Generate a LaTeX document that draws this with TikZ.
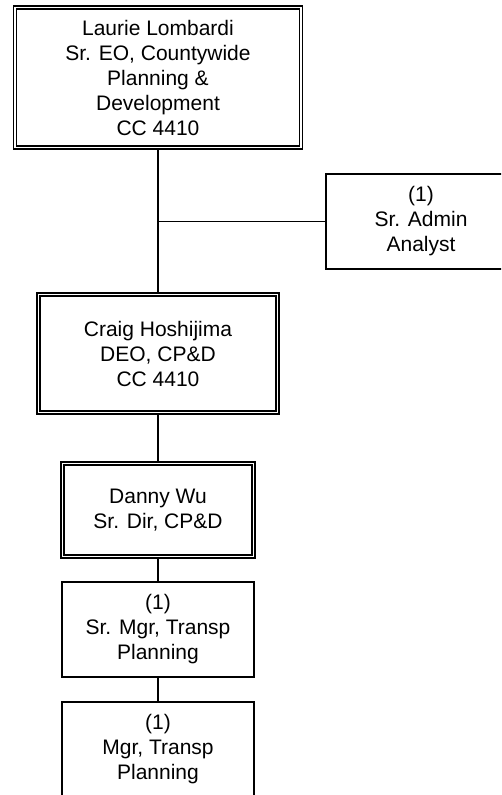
\documentclass[tikz,border=0pt]{standalone}
\usepackage{fontspec}
\setmainfont{Liberation Sans}
\begin{document}
\begin{tikzpicture}[x=1pt,y=-1pt,
  boxtext/.style={align=center,font=\fontsize{21}{25}\selectfont,inner sep=0pt},
  dbox/.style={boxtext,draw=black,double=white,line width=1.3pt,double distance=1.5pt,rectangle},
  sbox/.style={boxtext,draw=black,line width=1.8pt,rectangle},
  conn/.style={draw=black,line width=1.8pt}]
\useasboundingbox (0,0) rectangle (501,795);
\clip (0,0) rectangle (501,795);
\node[dbox,minimum width=286pt,minimum height=140pt] (laurie) at (158,77.5)
  {Laurie Lombardi\\Sr. EO, Countywide\\Planning \&\\Development\\CC 4410};
\node[sbox,minimum width=190pt,minimum height=95pt] (admin) at (421,221.5)
  {(1)\\Sr. Admin\\Analyst};
\node[dbox,minimum width=239pt,minimum height=118pt] (craig) at (158,353.5)
  {Craig Hoshijima\\DEO, CP\&D\\CC 4410};
\node[dbox,minimum width=191pt,minimum height=93pt] (danny) at (158,510)
  {Danny Wu\\Sr. Dir, CP\&D};
\node[sbox,minimum width=192pt,minimum height=95pt] (srmgr) at (158,629.5)
  {(1)\\Sr. Mgr, Transp\\Planning};
\node[sbox,minimum width=192pt,minimum height=95pt] (mgr) at (158,749.5)
  {(1)\\Mgr, Transp\\Planning};
\coordinate (junc) at (158,221.5);
\draw[conn] (laurie.south) -- (craig.north);
\draw[conn] (junc) -- (admin.west);
\draw[conn] (craig.south) -- (danny.north);
\draw[conn] (danny.south) -- (srmgr.north);
\draw[conn] (srmgr.south) -- (mgr.north);
\end{tikzpicture}
\end{document}
